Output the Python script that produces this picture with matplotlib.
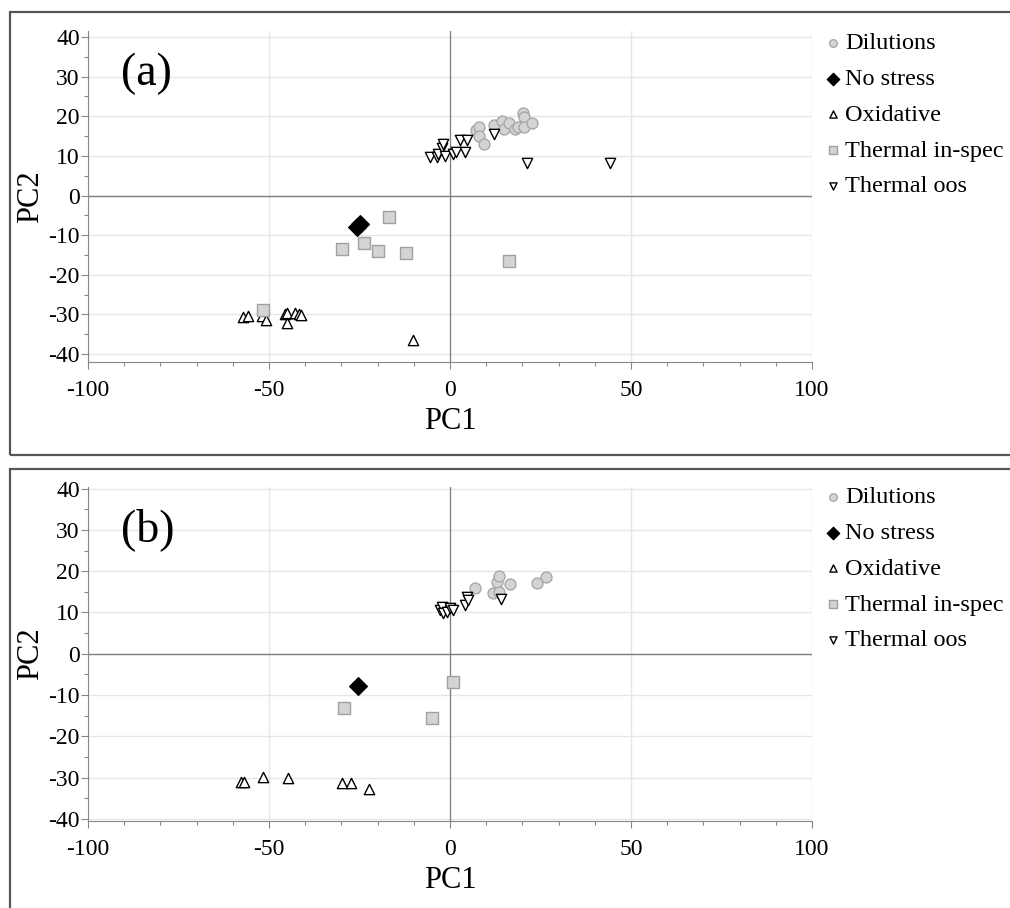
import matplotlib
matplotlib.use('Agg')
import matplotlib.pyplot as plt
from matplotlib.patches import Rectangle
from matplotlib.ticker import MultipleLocator

plt.rcParams['font.family'] = ['Liberation Serif', 'DejaVu Serif']

# ---- data, panel (a) ----
a_dil_x = [7.2, 8.0, 8.0, 9.4, 12.2, 14.3, 15.0, 16.4, 18.0, 18.9, 20.1, 20.5, 20.5, 22.7]
a_dil_y = [16.4, 17.4, 14.9, 13.1, 17.9, 18.9, 16.9, 18.4, 16.9, 17.4, 20.7, 19.9, 17.4, 18.2]
a_ns_x = [-25.8, -24.9]
a_ns_y = [-7.9, -7.3]
a_ox_x = [-57.1, -55.7, -52.0, -50.9, -45.5, -45.1, -45.0, -42.8, -41.6, -41.2, -10.1]
a_ox_y = [-30.6, -30.5, -30.5, -31.3, -29.8, -29.6, -32.1, -29.6, -30.0, -30.2, -36.4]
a_tin_x = [-16.9, -29.8, -23.8, -19.8, -12.2, 16.3, -51.6]
a_tin_y = [-5.3, -13.4, -11.9, -13.9, -14.6, -16.4, -28.8]
a_oos_x = [-5.5, -3.5, -3.2, -2.2, -2.0, -1.4, 0.9, 1.6, 2.8, 4.2, 4.6, 12.2, 21.4, 44.2]
a_oos_y = [9.6, 9.6, 10.4, 12.1, 12.9, 9.9, 10.4, 10.9, 14.1, 11.1, 14.1, 15.4, 8.3, 8.3]

# ---- data, panel (b) ----
b_dil_x = [6.9, 11.8, 12.9, 13.5, 13.5, 16.6, 24.0, 26.5]
b_dil_y = [16.0, 14.8, 17.4, 18.9, 15.0, 16.9, 17.2, 18.6]
b_ns_x = [-25.4]
b_ns_y = [-7.7]
b_ox_x = [-57.8, -56.8, -51.6, -44.8, -29.8, -27.4, -22.4]
b_ox_y = [-31.0, -31.0, -29.8, -30.0, -31.2, -31.2, -32.7]
b_tin_x = [-29.3, -5.0, 0.9]
b_tin_y = [-13.1, -15.5, -6.8]
b_oos_x = [-2.8, -2.3, -1.9, -0.9, 0.0, 0.9, 4.1, 4.6, 5.0, 14.1]
b_oos_y = [10.7, 11.4, 9.9, 10.2, 11.1, 10.7, 11.9, 13.8, 13.1, 13.3]

labels = ['Dilutions', 'No stress', 'Oxidative', 'Thermal in-spec', 'Thermal oos']

W, H = 1010, 908
fig = plt.figure(figsize=(W / 100, H / 100), dpi=100)

# panel frames
fig.patches.append(Rectangle((10 / W, 1 - 455 / H), 1.05, 443 / H, transform=fig.transFigure,
                             fill=False, edgecolor='#555555', linewidth=1.6))
fig.patches.append(Rectangle((10 / W, -0.05), 1.05, 1 - 469 / H + 0.05, transform=fig.transFigure,
                             fill=False, edgecolor='#555555', linewidth=1.6))


def draw_panel(ax, tag, dil, ns, ox, tin, oos, ylim, leg_top):
    ax.set_xlim(-100, 100)
    ax.set_ylim(*ylim)
    for s in ['top', 'right']:
        ax.spines[s].set_visible(False)
    for s in ['left', 'bottom']:
        ax.spines[s].set_color('#888888')
    ax.xaxis.set_major_locator(MultipleLocator(50))
    ax.xaxis.set_minor_locator(MultipleLocator(10))
    ax.yaxis.set_major_locator(MultipleLocator(10))
    ax.yaxis.set_minor_locator(MultipleLocator(5))
    ax.tick_params(which='both', colors='#888888', labelcolor='black', labelsize=17, width=0.8)
    ax.tick_params(which='major', length=5)
    ax.tick_params(which='minor', length=3)
    ax.tick_params(axis='x', pad=8)
    ax.tick_params(axis='y', pad=1)
    ax.set_xticks([-100, -50, 0, 50, 100])
    ax.set_xticklabels(['-100', '-50', '0', '50', '100'])
    ax.set_yticks(range(-40, 41, 10))
    ax.set_yticklabels([str(v) for v in range(-40, 41, 10)])
    ax.grid(True, which='major', color='#e6e6e6', linewidth=1)
    ax.axhline(0, color='#808080', linewidth=1, zorder=1)
    ax.axvline(0, color='#808080', linewidth=0.9, zorder=1)
    ax.set_axisbelow(True)

    h1 = ax.scatter(*dil, s=62, marker='o', facecolor='#d4d4d4', edgecolor='#a8a8a8', linewidth=1, zorder=3)
    h2 = ax.scatter(*ns, s=80, marker='D', facecolor='black', edgecolor='black', linewidth=1, zorder=3)
    h3 = ax.scatter(*ox, s=55, marker='^', facecolor='white', edgecolor='black', linewidth=1, zorder=3)
    h4 = ax.scatter(*tin, s=65, marker='s', facecolor='#d4d4d4', edgecolor='#a0a0a0', linewidth=1, zorder=3)
    h5 = ax.scatter(*oos, s=55, marker='v', facecolor='white', edgecolor='black', linewidth=1, zorder=4)

    ax.set_xlabel('PC1', fontsize=22, labelpad=4)
    ax.set_ylabel('PC2', fontsize=22, labelpad=2)
    ax.text(0.045, 0.87, tag, transform=ax.transAxes, fontsize=33, ha='left', va='center')

    fig.legend([h1, h2, h3, h4, h5], labels, loc='upper left',
               bbox_to_anchor=(826 / W, 1 - leg_top / H), frameon=False, fontsize=17.5,
               markerscale=0.7, handlelength=0.6, handletextpad=0.2, labelspacing=0.57,
               borderpad=0, borderaxespad=0)


ax_a = fig.add_axes([88 / W, 1 - 362 / H, 724 / W, 331 / H])
draw_panel(ax_a, '(a)', (a_dil_x, a_dil_y), (a_ns_x, a_ns_y), (a_ox_x, a_ox_y),
           (a_tin_x, a_tin_y), (a_oos_x, a_oos_y), (-42, 41.5), 32)

ax_b = fig.add_axes([88 / W, 1 - 821 / H, 724 / W, 334.5 / H])
draw_panel(ax_b, '(b)', (b_dil_x, b_dil_y), (b_ns_x, b_ns_y), (b_ox_x, b_ox_y),
           (b_tin_x, b_tin_y), (b_oos_x, b_oos_y), (-40.5, 40.5), 486)

fig.savefig('out.png', dpi=100)
